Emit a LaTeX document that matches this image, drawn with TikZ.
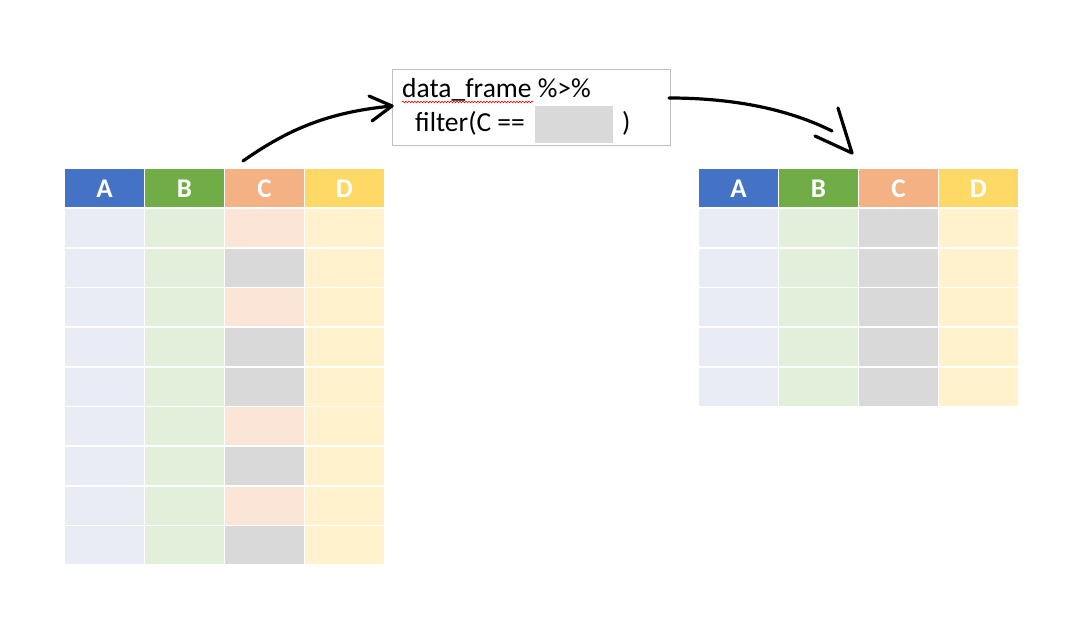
\documentclass[tikz,border=0pt]{standalone}
\usepackage{fontspec}
\setmainfont{Carlito}
\usetikzlibrary{decorations.pathmorphing}
\definecolor{hA}{HTML}{4472C4}
\definecolor{hB}{HTML}{70AD47}
\definecolor{hC}{HTML}{F4B183}
\definecolor{hD}{HTML}{FFD966}
\definecolor{lA}{HTML}{E9EBF5}
\definecolor{lB}{HTML}{E2EFDA}
\definecolor{lC}{HTML}{FBE5D6}
\definecolor{lD}{HTML}{FFF2CC}
\definecolor{lG}{HTML}{D9D9D9}
\definecolor{boxline}{HTML}{BFBFBF}
\begin{document}
\begin{tikzpicture}[x=1pt,y=-1pt,
  cell/.style={rectangle, inner sep=0pt, minimum width=78.5pt, minimum height=38pt},
  hdr/.style={cell, text=white, font=\fontsize{27}{30}\selectfont\bfseries},
  codetext/.style={inner sep=0pt, anchor=base west, font=\fontsize{27.5}{32}\selectfont},
  hand/.style={line width=3.2pt, line cap=round, line join=round, black}]
\useasboundingbox (0,0) rectangle (1077,628);
% tables
\foreach \c/\hc [count=\i from 0] in {A/hA, B/hB, C/hC, D/hD} {
  \node[hdr, fill=\hc] (LH\c) at ({65+80*\i+39.5}, 188.5) {\c};
  \node[hdr, fill=\hc] (RH\c) at ({699+80*\i+39.5}, 188.5) {\c};
}
\foreach \k/\cc in {0/lC,1/lG,2/lC,3/lG,4/lG,5/lC,6/lG,7/lC,8/lG} {
  \node[cell, fill=lA] (LA\k) at (104.5, {209+39.67*\k+19}) {};
  \node[cell, fill=lB] (LB\k) at (184.5, {209+39.67*\k+19}) {};
  \node[cell, fill=\cc] (LC\k) at (264.5, {209+39.67*\k+19}) {};
  \node[cell, fill=lD] (LD\k) at (344.5, {209+39.67*\k+19}) {};
}
\foreach \k in {0,...,4} {
  \node[cell, fill=lA] (RA\k) at (738.5, {209+39.67*\k+19}) {};
  \node[cell, fill=lB] (RB\k) at (818.5, {209+39.67*\k+19}) {};
  \node[cell, fill=lG] (RC\k) at (898.5, {209+39.67*\k+19}) {};
  \node[cell, fill=lD] (RD\k) at (978.5, {209+39.67*\k+19}) {};
}
% code box
\node[draw=boxline, line width=0.8pt, rectangle, inner sep=0pt, minimum width=278pt, minimum height=76pt] (code) at (531,107) {};
\node[rectangle, fill=lG, inner sep=0pt, minimum width=78pt, minimum height=37pt] (blank) at (574,124.5) {};
\node[codetext] (line1) at (402,98) {data\_frame \%>\%};
\node[codetext] (line2) at (415,132) {filter(C ==};
\node[codetext] (paren) at (622,132) {)};
\draw[red, line width=0.6pt, decorate, decoration={snake, amplitude=0.8pt, segment length=3pt}] (line1.base west) ++(0,4) -- ++(131,0);
% arrows
\coordinate (ls) at (243,161);
\coordinate (lt) at (392,106);
\coordinate (lu) at (369,96);
\coordinate (ll) at (372,121);
\draw[hand] (ls) .. controls (290,128) and (330,112) .. (lt);
\draw[hand] (lu) -- (lt) -- (ll);
\coordinate (rs) at (669,98);
\coordinate (re) at (832,131);
\coordinate (rt) at (852,153);
\coordinate (ru) at (838,108);
\coordinate (rl) at (815,136);
\draw[hand] (rs) .. controls (720,98) and (780,105) .. (re);
\draw[hand] (ru) -- (rt);
\draw[hand] (rl) -- (rt);
\end{tikzpicture}
\end{document}
